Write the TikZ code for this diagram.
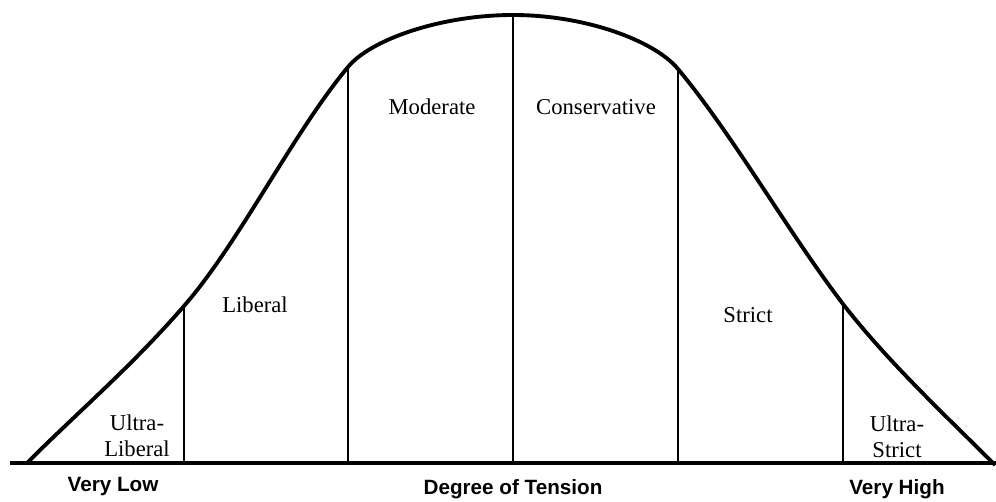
\documentclass[tikz,border=0pt]{standalone}
\usepackage{fontspec}
\setmainfont{Liberation Serif}
\newfontfamily\axisfont{Liberation Sans}
\begin{document}
\begin{tikzpicture}[x=0.75pt,y=-0.75pt,
  curveline/.style={line width=2.9pt,line join=round},
  divider/.style={line width=2.2pt},
  baseline/.style={line width=3.2pt},
  zone/.style={font=\fontsize{17}{19.5}\selectfont,align=center,inner sep=0pt},
  axislabel/.style={font=\axisfont\bfseries\fontsize{15.5}{18}\selectfont,inner sep=0pt}]
\useasboundingbox (0,0) rectangle (996,502);
% baseline
\coordinate (bl) at (10,463);
\coordinate (br) at (996,463);
\draw[baseline] (bl) -- (br);
% divider ends
\coordinate (b1) at (184,463); \coordinate (t1) at (184,306);
\coordinate (b2) at (348,463); \coordinate (t2) at (348,67);
\coordinate (b3) at (513,463); \coordinate (t3) at (513,15);
\coordinate (b4) at (678,463); \coordinate (t4) at (678,69);
\coordinate (b5) at (843,463); \coordinate (t5) at (843,304);
\coordinate (cs) at (27,463);
\coordinate (ce) at (995,465);
% curve
\draw[curveline] (cs)
  .. controls (79,411) and (132,366) .. (t1)
  .. controls (239,243) and (293,133) .. (t2)
  .. controls (370,40) and (440,15) .. (t3)
  .. controls (586,15) and (655,41) .. (t4)
  .. controls (733,135) and (788,232) .. (t5)
  .. controls (888,362) and (945,415) .. (ce);
% dividers
\foreach \i in {1,...,5} \draw[divider] (b\i) -- (t\i);
% zone labels
\node[zone] (ultralib) at (137,436) {Ultra-\\Liberal};
\node[zone] (lib) at (255,305) {Liberal};
\node[zone] (mod) at (432,107) {Moderate};
\node[zone] (cons) at (596,107) {Conservative};
\node[zone] (strict) at (748,315) {Strict};
\node[zone] (ultrastrict) at (897,437) {Ultra-\\Strict};
% axis labels
\node[axislabel] (low) at (113,487) {Very Low};
\node[axislabel] (deg) at (513,489) {Degree of Tension};
\node[axislabel] (high) at (897,489) {Very High};
\end{tikzpicture}
\end{document}
